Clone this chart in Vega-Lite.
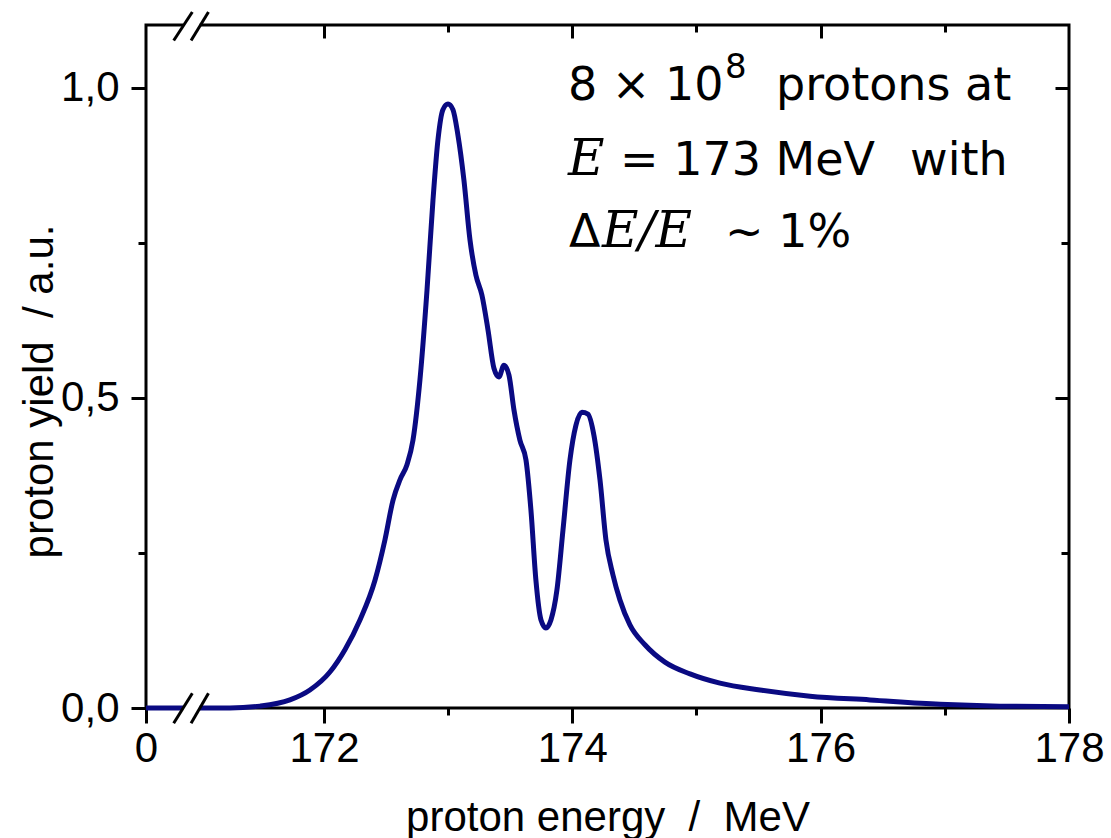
{
  "$schema": "https://vega.github.io/schema/vega-lite/v6.json",
  "width": 923,
  "height": 683,
  "autosize": {"type": "none"},
  "padding": {"left": 146, "top": 25, "right": 42, "bottom": 130},
  "background": "white",
  "config": {
    "view": {"stroke": "black", "strokeWidth": 3},
    "axis": {
      "domain": false, "grid": false, "tickColor": "black", "tickWidth": 3,
      "labelFont": "Liberation Sans", "labelFontSize": 42, "labelColor": "black",
      "titleFont": "Liberation Sans", "titleFontSize": 42, "titleFontWeight": "normal", "titleColor": "black",
      "labelOverlap": false, "labelFlush": false, "labelBound": false
    }
  },
  "datasets": {
    "curve": [
      {"energy": 170.567, "yield": 0},
      {"energy": 171.0, "yield": 0},
      {"energy": 171.243, "yield": 0},
      {"energy": 171.485, "yield": 0.003},
      {"energy": 171.726, "yield": 0.013},
      {"energy": 171.887, "yield": 0.029},
      {"energy": 172.048, "yield": 0.058},
      {"energy": 172.169, "yield": 0.094},
      {"energy": 172.290, "yield": 0.142},
      {"energy": 172.411, "yield": 0.206},
      {"energy": 172.491, "yield": 0.271},
      {"energy": 172.556, "yield": 0.335},
      {"energy": 172.612, "yield": 0.368},
      {"energy": 172.668, "yield": 0.392},
      {"energy": 172.717, "yield": 0.432},
      {"energy": 172.773, "yield": 0.529},
      {"energy": 172.830, "yield": 0.674},
      {"energy": 172.878, "yield": 0.819},
      {"energy": 172.918, "yield": 0.916},
      {"energy": 172.958, "yield": 0.965},
      {"energy": 172.999, "yield": 0.974},
      {"energy": 173.039, "yield": 0.965},
      {"energy": 173.079, "yield": 0.924},
      {"energy": 173.127, "yield": 0.852},
      {"energy": 173.176, "yield": 0.755},
      {"energy": 173.224, "yield": 0.698},
      {"energy": 173.272, "yield": 0.666},
      {"energy": 173.321, "yield": 0.610},
      {"energy": 173.369, "yield": 0.548},
      {"energy": 173.409, "yield": 0.534},
      {"energy": 173.450, "yield": 0.553},
      {"energy": 173.490, "yield": 0.537},
      {"energy": 173.530, "yield": 0.481},
      {"energy": 173.578, "yield": 0.432},
      {"energy": 173.627, "yield": 0.400},
      {"energy": 173.667, "yield": 0.319},
      {"energy": 173.707, "yield": 0.206},
      {"energy": 173.748, "yield": 0.142},
      {"energy": 173.788, "yield": 0.129},
      {"energy": 173.828, "yield": 0.142},
      {"energy": 173.876, "yield": 0.190},
      {"energy": 173.925, "yield": 0.287},
      {"energy": 173.981, "yield": 0.400},
      {"energy": 174.029, "yield": 0.456},
      {"energy": 174.078, "yield": 0.477},
      {"energy": 174.126, "yield": 0.474},
      {"energy": 174.174, "yield": 0.440},
      {"energy": 174.223, "yield": 0.368},
      {"energy": 174.271, "yield": 0.271},
      {"energy": 174.327, "yield": 0.215},
      {"energy": 174.384, "yield": 0.174},
      {"energy": 174.464, "yield": 0.134},
      {"energy": 174.585, "yield": 0.102},
      {"energy": 174.746, "yield": 0.074},
      {"energy": 174.948, "yield": 0.055},
      {"energy": 175.189, "yield": 0.040},
      {"energy": 175.511, "yield": 0.029},
      {"energy": 175.914, "yield": 0.019},
      {"energy": 176.397, "yield": 0.013},
      {"energy": 176.961, "yield": 0.006},
      {"energy": 177.444, "yield": 0.003},
      {"energy": 178.0, "yield": 0.002}
    ],
    "gaps": [
      {"from": 170.865, "to": 171.0, "level": 0},
      {"from": 170.865, "to": 171.0, "level": 1.1016}
    ],
    "slashes": [
      {"xa": 170.79, "xb": 170.94, "ya": -0.0247, "yb": 0.0237},
      {"xa": 170.93, "xb": 171.07, "ya": -0.0247, "yb": 0.0237},
      {"xa": 170.79, "xb": 170.94, "ya": 1.0766, "yb": 1.1226},
      {"xa": 170.93, "xb": 171.07, "ya": 1.0766, "yb": 1.1226}
    ],
    "notes": [
      {"text": "8 × 10", "energy": 173.965, "yield": 0.981},
      {"text": "protons at", "energy": 175.640, "yield": 0.981},
      {"text": "= 173 MeV", "energy": 174.384, "yield": 0.860},
      {"text": "with", "energy": 176.720, "yield": 0.860},
      {"text": "Δ", "energy": 173.973, "yield": 0.744},
      {"text": "∼ 1%", "energy": 175.230, "yield": 0.744}
    ],
    "supers": [
      {"text": "8", "energy": 175.229, "yield": 1.016}
    ],
    "mathvars": [
      {"text": "E", "energy": 173.965, "yield": 0.860},
      {"text": "E/E", "energy": 174.240, "yield": 0.744}
    ]
  },
  "layer": [
    {
      "data": {"name": "curve"},
      "mark": {"type": "line", "color": "#0a0a82", "strokeWidth": 5, "interpolate": "monotone"},
      "encoding": {
        "x": {
          "field": "energy", "type": "quantitative",
          "scale": {"domain": [170.567, 178], "nice": false, "zero": false},
          "axis": {
            "orient": "bottom",
            "values": [170.567, 172, 173, 174, 175, 176, 177, 178],
            "labelExpr": "datum.value < 171 ? '0' : (datum.value % 2 == 0 ? format(datum.value, 'd') : '')",
            "tickSize": {"condition": {"test": "datum.value == 173 || datum.value == 175 || datum.value == 177", "value": 7}, "value": 15},
            "labelPadding": 5,
            "title": "proton energy\u00a0\u00a0/\u00a0\u00a0MeV",
            "titleY": 122, "titleBaseline": "alphabetic"
          }
        },
        "y": {
          "field": "yield", "type": "quantitative",
          "scale": {"domain": [0, 1.1016], "nice": false, "zero": false},
          "axis": {
            "orient": "left",
            "values": [0, 0.25, 0.5, 0.75, 1.0],
            "labelExpr": "datum.value == 0.25 || datum.value == 0.75 ? '' : replace(format(datum.value, '.1f'), '.', ',')",
            "tickSize": {"condition": {"test": "datum.value == 0.25 || datum.value == 0.75", "value": 8}, "value": 15},
            "labelPadding": 12,
            "title": "proton yield\u00a0\u00a0/ a.u.",
            "titleX": -107, "titleY": 366, "titleAngle": -90, "titleAlign": "center", "titleBaseline": "middle"
          }
        }
      }
    },
    {
      "data": {"name": "gaps"},
      "mark": {"type": "rule", "color": "white", "strokeWidth": 8},
      "encoding": {
        "x": {
          "field": "from", "type": "quantitative",
          "scale": {"domain": [170.567, 178], "nice": false, "zero": false},
          "axis": {
            "orient": "top", "values": [172, 173, 174, 175, 176, 177], "labels": false, "title": null,
            "tickSize": {"condition": {"test": "datum.value == 173 || datum.value == 175 || datum.value == 177", "value": -7}, "value": -13}
          }
        },
        "x2": {"field": "to"},
        "y": {
          "field": "level", "type": "quantitative",
          "scale": {"domain": [0, 1.1016], "nice": false, "zero": false},
          "axis": {
            "orient": "right", "values": [0.25, 0.5, 0.75, 1.0], "labels": false, "title": null,
            "tickSize": {"condition": {"test": "datum.value == 0.25 || datum.value == 0.75", "value": -8}, "value": -14}
          }
        }
      }
    },
    {
      "data": {"name": "slashes"},
      "mark": {"type": "rule", "color": "black", "strokeWidth": 3},
      "encoding": {
        "x": {"field": "xa", "type": "quantitative", "scale": {"domain": [170.567, 178], "nice": false, "zero": false}, "axis": null},
        "x2": {"field": "xb"},
        "y": {"field": "ya", "type": "quantitative", "scale": {"domain": [0, 1.1016], "nice": false, "zero": false}, "axis": null},
        "y2": {"field": "yb"}
      }
    },
    {
      "data": {"name": "notes"},
      "mark": {"type": "text", "align": "left", "baseline": "alphabetic", "font": "DejaVu Sans", "fontSize": 46, "color": "black"},
      "encoding": {
        "x": {"field": "energy", "type": "quantitative", "scale": {"domain": [170.567, 178], "nice": false, "zero": false}, "axis": null},
        "y": {"field": "yield", "type": "quantitative", "scale": {"domain": [0, 1.1016], "nice": false, "zero": false}, "axis": null},
        "text": {"field": "text"}
      }
    },
    {
      "data": {"name": "supers"},
      "mark": {"type": "text", "align": "left", "baseline": "alphabetic", "font": "DejaVu Sans", "fontSize": 34, "color": "black"},
      "encoding": {
        "x": {"field": "energy", "type": "quantitative", "scale": {"domain": [170.567, 178], "nice": false, "zero": false}, "axis": null},
        "y": {"field": "yield", "type": "quantitative", "scale": {"domain": [0, 1.1016], "nice": false, "zero": false}, "axis": null},
        "text": {"field": "text"}
      }
    },
    {
      "data": {"name": "mathvars"},
      "mark": {"type": "text", "align": "left", "baseline": "alphabetic", "font": "DejaVu Serif", "fontStyle": "italic", "fontSize": 50, "color": "black"},
      "encoding": {
        "x": {"field": "energy", "type": "quantitative", "scale": {"domain": [170.567, 178], "nice": false, "zero": false}, "axis": null},
        "y": {"field": "yield", "type": "quantitative", "scale": {"domain": [0, 1.1016], "nice": false, "zero": false}, "axis": null},
        "text": {"field": "text"}
      }
    }
  ],
  "resolve": {"axis": {"x": "independent", "y": "independent"}}
}
